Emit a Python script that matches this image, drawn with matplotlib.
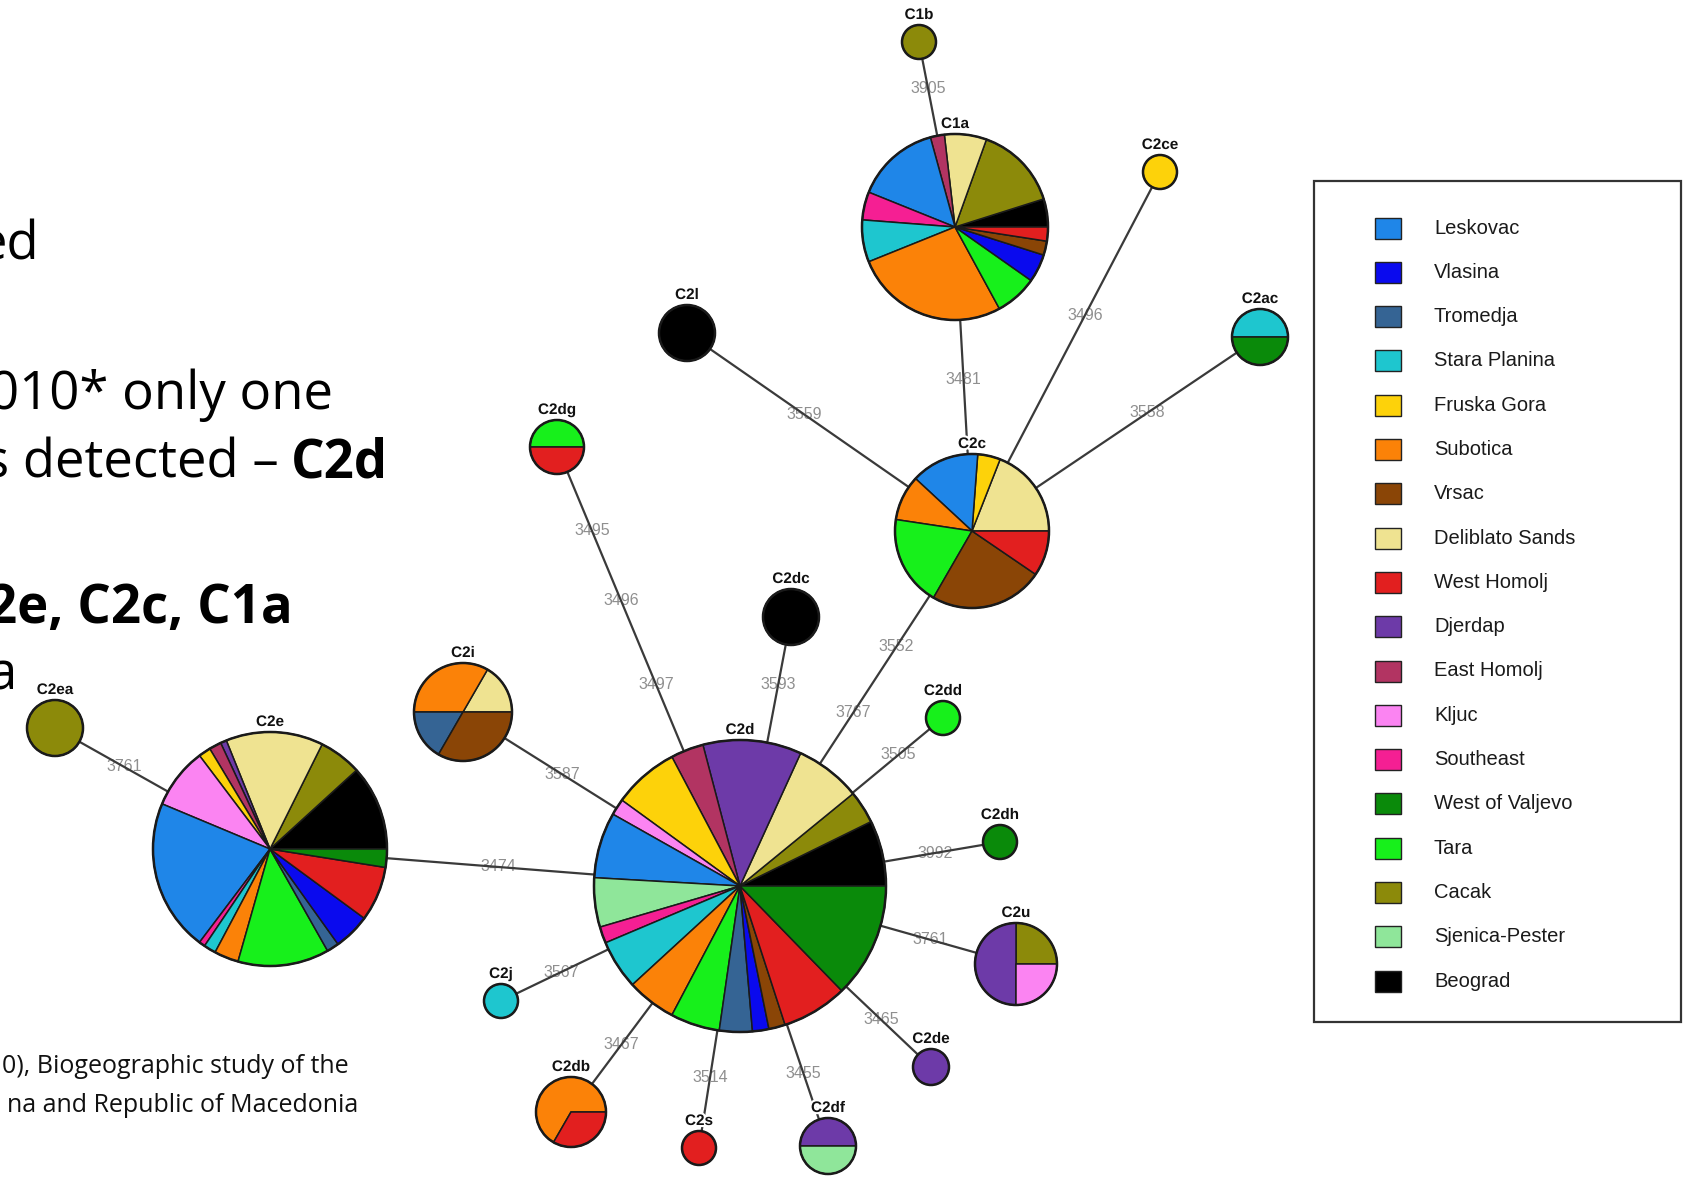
import matplotlib
matplotlib.use("Agg")
import matplotlib.pyplot as plt
import matplotlib.patheffects as pe
from matplotlib.patches import Rectangle, Circle

W, H = 1686, 1179

# legend order of sampling regions and their colours
regions = ["Leskovac", "Vlasina", "Tromedja", "Stara Planina", "Fruska Gora", "Subotica",
           "Vrsac", "Deliblato Sands", "West Homolj", "Djerdap", "East Homolj", "Kljuc",
           "Southeast", "West of Valjevo", "Tara", "Cacak", "Sjenica-Pester", "Beograd"]
region_colors = ["#1f86e8", "#0a0aee", "#356494", "#1ec6cf", "#fdd20a", "#fb8208",
                 "#8a4506", "#efe391", "#e21f1f", "#6d3aa8", "#b23462", "#fb84f2",
                 "#f51f93", "#0a8a0a", "#17f01b", "#8c8a0a", "#8fe69a", "#000000"]
color_of = dict(zip(regions, region_colors))

# number of samples per region for every haplotype
C1b = {"Cacak": 1}
C1a = {"Beograd": 2, "Cacak": 6, "Deliblato Sands": 3, "East Homolj": 1, "Leskovac": 6,
       "Southeast": 2, "Stara Planina": 3, "Subotica": 11, "Tara": 3, "Vlasina": 2,
       "Vrsac": 1, "West Homolj": 1}
C2ce = {"Fruska Gora": 1}
C2l = {"Beograd": 1}
C2ac = {"Stara Planina": 1, "West of Valjevo": 1}
C2c = {"Deliblato Sands": 4, "Fruska Gora": 1, "Leskovac": 3, "Subotica": 2, "Tara": 4,
       "Vrsac": 5, "West Homolj": 2}
C2dg = {"Tara": 1, "West Homolj": 1}
C2dc = {"Beograd": 1}
C2i = {"Deliblato Sands": 1, "Subotica": 2, "Tromedja": 1, "Vrsac": 2}
C2ea = {"Cacak": 1}
C2e = {"Beograd": 14, "Cacak": 7, "Deliblato Sands": 16, "Djerdap": 1, "East Homolj": 2,
       "Fruska Gora": 2, "Kljuc": 10, "Leskovac": 25, "Southeast": 1, "Stara Planina": 2,
       "Subotica": 4, "Tara": 15, "Tromedja": 2, "Vlasina": 6, "West Homolj": 9,
       "West of Valjevo": 3}
C2d = {"Beograd": 4, "Cacak": 2, "Deliblato Sands": 4, "Djerdap": 6, "East Homolj": 2,
       "Fruska Gora": 4, "Kljuc": 1, "Leskovac": 4, "Sjenica-Pester": 3, "Southeast": 1,
       "Stara Planina": 3, "Subotica": 3, "Tara": 3, "Tromedja": 2, "Vlasina": 1,
       "Vrsac": 1, "West Homolj": 4, "West of Valjevo": 7}
C2dd = {"Tara": 1}
C2dh = {"West of Valjevo": 1}
C2u = {"Cacak": 1, "Djerdap": 2, "Kljuc": 1}
C2de = {"Djerdap": 1}
C2df = {"Djerdap": 1, "Sjenica-Pester": 1}
C2s = {"West Homolj": 1}
C2db = {"Subotica": 2, "West Homolj": 1}
C2j = {"Stara Planina": 1}

haplotypes = {"C1b": C1b, "C1a": C1a, "C2ce": C2ce, "C2l": C2l, "C2ac": C2ac, "C2c": C2c,
              "C2dg": C2dg, "C2dc": C2dc, "C2i": C2i, "C2ea": C2ea, "C2e": C2e, "C2d": C2d,
              "C2dd": C2dd, "C2dh": C2dh, "C2u": C2u, "C2de": C2de, "C2df": C2df,
              "C2s": C2s, "C2db": C2db, "C2j": C2j}

# network links and the mutation labels on them
edges = [("C1b", "C1a"), ("C1a", "C2c"), ("C2ce", "C2c"), ("C2l", "C2c"), ("C2ac", "C2c"),
         ("C2c", "C2d"), ("C2dg", "C2d"), ("C2dc", "C2d"), ("C2i", "C2d"), ("C2dd", "C2d"),
         ("C2dh", "C2d"), ("C2u", "C2d"), ("C2de", "C2d"), ("C2df", "C2d"), ("C2s", "C2d"),
         ("C2db", "C2d"), ("C2j", "C2d"), ("C2e", "C2d"), ("C2ea", "C2e")]
edge_labels = [["3905"], ["3481"], ["3496"], ["3559"], ["3558"], ["3552", "3767"],
               ["3495", "3496", "3497"], ["3593"], ["3587"], ["3505"], ["3992"], ["3761"],
               ["3465"], ["3455"], ["3514"], ["3467"], ["3567"], ["3474"], ["3761"]]

# layout: node centre (px) and radius (px)
layout = {"C1b": (919, 42, 17), "C1a": (955, 227, 93), "C2ce": (1160, 172, 17),
          "C2l": (687, 333, 28), "C2ac": (1260, 337, 28), "C2c": (972, 531, 77),
          "C2dg": (557, 447, 27), "C2dc": (791, 617, 28), "C2i": (463, 712, 49),
          "C2ea": (55, 728, 28), "C2e": (270, 849, 117), "C2d": (740, 886, 146),
          "C2dd": (943, 718, 17), "C2dh": (1000, 842, 17), "C2u": (1016, 964, 41),
          "C2de": (931, 1067, 18), "C2df": (828, 1146, 28), "C2s": (699, 1148, 17),
          "C2db": (571, 1112, 35), "C2j": (501, 1001, 17)}
label_frac = [[0.25], [0.5], [0.40], [0.41], [0.39], [0.325, 0.51], [0.19, 0.35, 0.54],
              [0.25], [0.36], [0.22], [0.25], [0.31], [0.26], [0.28], [0.27], [0.30],
              [0.25], [0.485], [0.32]]

fig = plt.figure(figsize=(W / 100, H / 100), dpi=100)
ax = fig.add_axes([0, 0, 1, 1])
ax.set_xlim(0, W)
ax.set_ylim(H, 0)
ax.set_autoscale_on(False)

halo = [pe.withStroke(linewidth=3, foreground="white")]

# links go over their mutation labels
for (a, b), labs, fracs in zip(edges, edge_labels, label_frac):
    xa, ya, _ = layout[a]
    xb, yb, _ = layout[b]
    ax.plot([xa, xb], [ya, yb], color="#3a3a3a", lw=1.6, zorder=2)
    for lab, t in zip(labs, fracs):
        ax.text(xa + t * (xb - xa), ya + t * (yb - ya), lab, ha="center", va="center",
                fontsize=11.5, color="#8f8f8f", family="Liberation Sans", zorder=1)

# y axis runs downwards, so a clockwise pie in data space turns counter-clockwise on screen
for name, counts in haplotypes.items():
    x, y, r = layout[name]
    keys = sorted(counts)
    ax.pie([counts[k] for k in keys], colors=[color_of[k] for k in keys],
           center=(x, y), radius=r, startangle=0, counterclock=False, frame=True,
           wedgeprops=dict(edgecolor="#1a1a1a", linewidth=1.1, zorder=3))
    ax.add_patch(Circle((x, y), r, fill=False, edgecolor="#1a1a1a", lw=1.8, zorder=4))
    ax.text(x, y - r - 10, name, ha="center", va="center", fontsize=11, fontweight="bold",
            family="Liberation Sans", color="#111111", path_effects=halo, zorder=5)

# legend box
ax.add_patch(Rectangle((1314, 181), 367, 841, fill=False, edgecolor="#333333", lw=1.6,
                       zorder=6))
for i, (reg, col) in enumerate(zip(regions, region_colors)):
    yc = 228 + i * 44.3
    ax.add_patch(Rectangle((1375, yc - 10.5), 26, 21, facecolor=col, edgecolor="#222222",
                           lw=1.0, zorder=6))
    ax.text(1434, yc, reg, ha="left", va="center", fontsize=14.5, family="Liberation Sans",
            color="#1a1a1a", zorder=6)

# slide text on the left, partly cut off at the edge
big = dict(family="Open Sans", fontsize=38, color="black", va="baseline", ha="right")
ax.text(39, 260, "ed", **big)
ax.text(333, 409, "010* only one", **big)
t_bold = ax.text(388, 478, "C2d", fontweight="bold", **big)
fig.canvas.draw()
bb = t_bold.get_window_extent(renderer=fig.canvas.get_renderer())
ax.text(388 - bb.width - 12, 478, "s detected \u2013", **big)
ax.text(293, 623, "2e, C2c, C1a", fontweight="bold", **big)
ax.text(17, 690, "a", **big)

foot = dict(family="Open Sans", fontsize=18, color="#111111", va="baseline", ha="right")
ax.text(349, 1073, "0), Biogeographic study of the", **foot)
ax.text(358, 1112, "na and Republic of Macedonia", **foot)

ax.set_xlim(0, W)
ax.set_ylim(H, 0)
ax.axis("off")
fig.savefig("out.png", dpi=100, facecolor="white")
